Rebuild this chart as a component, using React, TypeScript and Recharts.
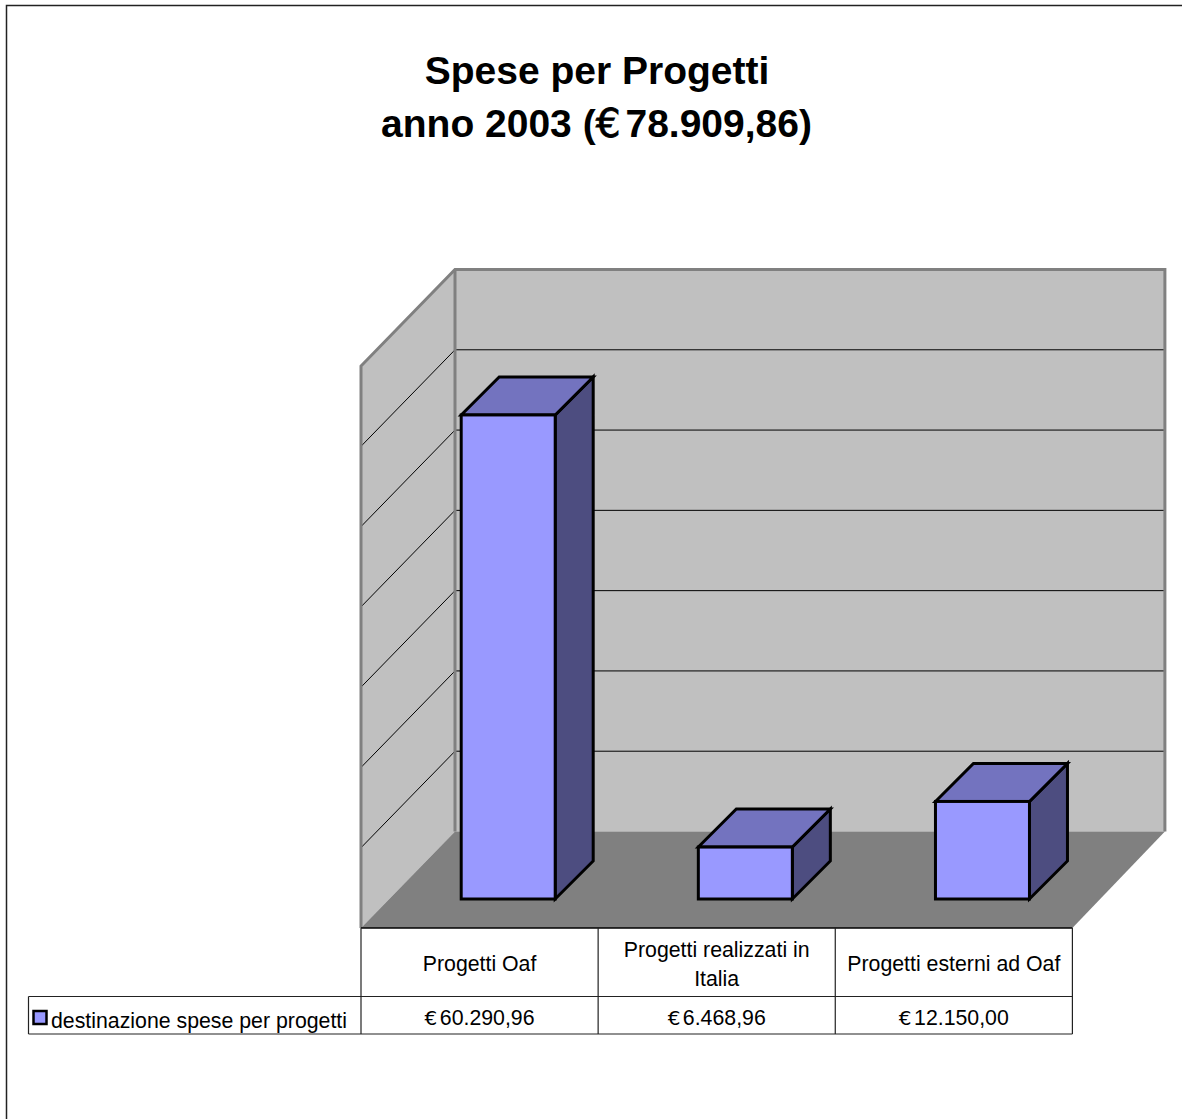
import React from 'react';
import { BarChart, Bar, XAxis, YAxis, usePlotArea } from 'recharts';

const categories = ['Progetti Oaf', 'Progetti realizzati in Italia', 'Progetti esterni ad Oaf'];
const categoryLines = [['Progetti Oaf'], ['Progetti realizzati in', 'Italia'], ['Progetti esterni ad Oaf']];
const spese = [60290.96, 6468.96, 12150.0];
const speseLabels = ['60.290,96', '6.468,96', '12.150,00'];
const yTicks = [0, 10000, 20000, 30000, 40000, 50000, 60000, 70000];
const yMax = 70000;
const seriesName = 'destinazione spese per progetti';

const data = categories.map((name, i) => ({ name, value: spese[i] }));

const FONT = '"Liberation Sans", Arial, sans-serif';
const EURO_FONT = '"DejaVu Sans", sans-serif';
const WIDTH = 1182;
const HEIGHT = 1119;

// the bars stand halfway into the floor, so front plane and back wall are shifted from the plot
const FRONT_DX = -28.2;
const FRONT_DY = 29;
const BACK_DX = 65.8;
const BACK_DY = -67.5;
const BAR_DEPTH = 38;

const Walls = () => {
  const plot = usePlotArea();
  if (!plot) return null;
  const yOf = (v: number) => plot.y + plot.height * (1 - v / yMax);
  const fx0 = plot.x + FRONT_DX;
  const fx1 = plot.x + plot.width + FRONT_DX;
  const bx0 = plot.x + BACK_DX;
  const bx1 = plot.x + plot.width + BACK_DX - 1.5;
  const fb = yOf(0) + FRONT_DY;
  const ft = yOf(yMax) + FRONT_DY;
  const bb = yOf(0) + BACK_DY;
  const bt = yOf(yMax) + BACK_DY;
  const cols = [0, 1, 2, 3].map((i) => fx0 + (plot.width * i) / 3);
  return (
    <g>
      <rect x={6.5} y={5.5} width={WIDTH + 20} height={HEIGHT + 20} fill="#fff" stroke="#222" strokeWidth={1.5} />
      <text x={597} y={84} textAnchor="middle" fontFamily={FONT} fontWeight="bold" fontSize={39} fill="#000">
        Spese per Progetti
      </text>
      <text x={596.5} y={137} textAnchor="middle" fontFamily={FONT} fontWeight="bold" fontSize={39} fill="#000">
        anno 2003 (<tspan fontFamily={EURO_FONT} fontWeight="normal" stroke="#000" strokeWidth={0.8}>€</tspan>
        <tspan dx={5}>78.909,86)</tspan>
      </text>
      <polygon points={`${fx0},${ft} ${bx0},${bt} ${bx0},${bb} ${fx0},${fb}`} fill="#c0c0c0" />
      <rect x={bx0} y={bt} width={bx1 - bx0} height={bb - bt} fill="#c0c0c0" />
      <polygon points={`${fx0},${fb} ${bx0},${bb} ${bx1},${bb} ${fx1},${fb}`} fill="#808080" />
      {yTicks.slice(1, -1).map((v) => (
        <g key={v} stroke="#000" strokeWidth={1}>
          <line x1={bx0} x2={bx1} y1={yOf(v) + BACK_DY} y2={yOf(v) + BACK_DY} />
          <line x1={fx0} x2={bx0} y1={yOf(v) + FRONT_DY} y2={yOf(v) + BACK_DY} />
        </g>
      ))}
      <polyline
        points={`${fx0},${fb} ${fx0},${ft} ${bx0},${bt} ${bx1},${bt} ${bx1},${bb}`}
        fill="none"
        stroke="#808080"
        strokeWidth={3}
      />
      <line x1={bx0} x2={bx0} y1={bt} y2={bb} stroke="#808080" strokeWidth={3} />

      <g stroke="#222" strokeWidth={1.2} fill="none">
        <line x1={fx0} x2={fx1} y1={fb} y2={fb} stroke="#000" strokeWidth={1.6} />
        <line x1={28.5} x2={fx1} y1={996.5} y2={996.5} />
        <line x1={28.5} x2={fx1} y1={1034} y2={1034} />
        <line x1={28.5} x2={28.5} y1={996.5} y2={1034} />
        {cols.map((c) => (
          <line key={c} x1={c} x2={c} y1={fb} y2={1034} />
        ))}
      </g>
      <rect x={33.5} y={1011} width={13} height={13} fill="#9999ff" stroke="#000" strokeWidth={2.5} />
      <text x={51} y={1028} fontFamily={FONT} fontSize={21.3} fill="#000">
        {seriesName}
      </text>
    </g>
  );
};

const Box3D = (props: any) => {
  const { x, y, width, height } = props;
  const r = x + width;
  const b = y + height;
  const d = BAR_DEPTH;
  return (
    <g stroke="#000" strokeWidth={3} strokeLinejoin="miter">
      <polygon points={`${r},${y} ${r + d},${y - d} ${r + d},${b - d} ${r},${b}`} fill="#4d4d80" />
      <polygon points={`${x},${y} ${x + d},${y - d} ${r + d},${y - d} ${r},${y}`} fill="#7373bf" />
      <rect x={x} y={y} width={width} height={height} fill="#9999ff" />
    </g>
  );
};

const TableTick = (props: any) => {
  const { x, index } = props;
  const cx = x + FRONT_DX;
  const lines = categoryLines[index];
  const startY = lines.length > 1 ? 957 : 971;
  return (
    <g fontFamily={FONT} fontSize={21.3} textAnchor="middle">
      {lines.map((l, i) => (
        <text key={l} x={cx} y={startY + i * 29} fill="#000">
          {l}
        </text>
      ))}
      <text x={cx} y={1025} fill="#000">
        <tspan fontFamily={EURO_FONT} fontSize={20}>€</tspan>
        <tspan dx={2.5}>{speseLabels[index]}</tspan>
      </text>
    </g>
  );
};

export default function App() {
  return (
    <div style={{ position: 'absolute', left: 0, top: 0, width: WIDTH, height: HEIGHT, background: '#fff' }}>
      <BarChart
        width={WIDTH}
        height={HEIGHT}
        data={data}
        margin={{ left: 389.2, right: 81.4, top: 337, bottom: 219 }}
      >
        <Walls />
        <XAxis dataKey="name" height={1} axisLine={false} tickLine={false} tick={<TableTick />} interval={0} />
        <YAxis domain={[0, yMax]} ticks={yTicks} hide />
        <Bar dataKey="value" barSize={94} shape={<Box3D />} isAnimationActive={false} />
      </BarChart>
    </div>
  );
}
